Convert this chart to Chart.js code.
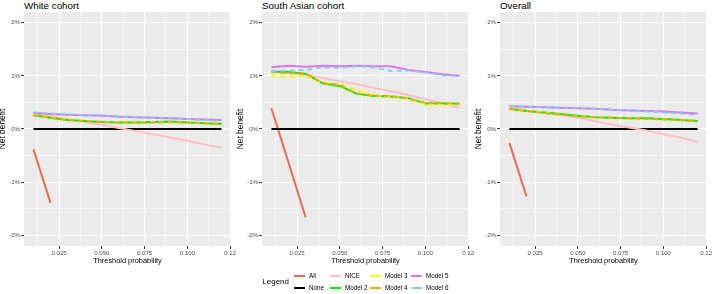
<!DOCTYPE html>
<html>
<head>
<meta charset="utf-8">
<script src="https://cdn.jsdelivr.net/npm/chart.js@4.4.0/dist/chart.umd.min.js"></script>
<style>
  html, body { margin: 0; padding: 0; background: #fff; }
  #wrap { position: relative; width: 713px; height: 294px; overflow: hidden; font-family: "Liberation Sans", Arial, sans-serif; }
  .panel { position: absolute; top: 0; width: 239px; height: 272px; }
  .ptitle { position: absolute; top: 0; font-size: 9.8px; line-height: 12px; color: #000; white-space: nowrap; }
  .lg { position: absolute; white-space: nowrap; color: #000; }
  .lgkey { position: absolute; height: 2px; width: 11px; }
</style>
</head>
<body>
<div id="wrap">
  <div class="ptitle" style="left:24px">White cohort</div>
  <div class="ptitle" style="left:262px">South Asian cohort</div>
  <div class="ptitle" style="left:500px">Overall</div>
  <div class="panel" style="left:-2px"><canvas id="c0" width="239" height="272"></canvas></div>
  <div class="panel" style="left:236px"><canvas id="c1" width="239" height="272"></canvas></div>
  <div class="panel" style="left:474px"><canvas id="c2" width="239" height="272"></canvas></div>
  <div id="legend"></div>
</div>

<script>
// threshold probabilities (x)
const thresholds = [0.01, 0.02, 0.03, 0.04, 0.05, 0.06, 0.07, 0.08, 0.09, 0.10, 0.11, 0.12];

// net benefit in % (null = outside the plotted range)
const whiteAll    = [-0.38, -1.39, null, null, null, null, null, null, null, null, null, null];
const whiteNone   = [0, 0, 0, 0, 0, 0, 0, 0, 0, 0, 0, 0];
const whiteNice   = [0.29, 0.24, 0.19, 0.13, 0.08, 0.02, -0.04, -0.10, -0.16, -0.22, -0.29, -0.35];
const whiteModel2 = [0.26, 0.21, 0.17, 0.15, 0.13, 0.12, 0.12, 0.13, 0.14, 0.12, 0.11, 0.10];
const whiteModel3 = [0.27, 0.22, 0.18, 0.15, 0.13, 0.12, 0.12, 0.13, 0.13, 0.12, 0.11, 0.10];
const whiteModel4 = [0.26, 0.21, 0.17, 0.15, 0.13, 0.12, 0.12, 0.12, 0.13, 0.12, 0.11, 0.09];
const whiteModel5 = [0.30, 0.28, 0.27, 0.26, 0.25, 0.23, 0.22, 0.21, 0.20, 0.19, 0.18, 0.17];
const whiteModel6 = [0.31, 0.29, 0.28, 0.26, 0.26, 0.24, 0.22, 0.21, 0.20, 0.19, 0.17, 0.15];

const saAll    = [0.39, -0.63, -1.66, null, null, null, null, null, null, null, null, null];
const saNone   = [0, 0, 0, 0, 0, 0, 0, 0, 0, 0, 0, 0];
const saNice   = [1.08, 1.06, 1.02, 0.96, 0.90, 0.84, 0.77, 0.71, 0.64, 0.56, 0.48, 0.40];
const saModel2 = [1.08, 1.07, 1.04, 0.86, 0.81, 0.66, 0.62, 0.61, 0.58, 0.48, 0.48, 0.48];
const saModel3 = [1.00, 0.98, 1.00, 0.87, 0.84, 0.74, 0.63, 0.61, 0.57, 0.46, 0.45, 0.47];
const saModel4 = [1.07, 1.05, 1.04, 0.86, 0.83, 0.67, 0.63, 0.62, 0.57, 0.49, 0.49, 0.47];
const saModel5 = [1.16, 1.19, 1.17, 1.19, 1.18, 1.19, 1.18, 1.18, 1.11, 1.07, 1.03, 1.00];
const saModel6 = [1.09, 1.10, 1.11, 1.16, 1.15, 1.18, 1.16, 1.09, 1.10, 1.06, 1.01, 1.00];

const ovAll    = [-0.26, -1.27, null, null, null, null, null, null, null, null, null, null];
const ovNone   = [0, 0, 0, 0, 0, 0, 0, 0, 0, 0, 0, 0];
const ovNice   = [0.40, 0.35, 0.31, 0.26, 0.21, 0.15, 0.08, 0.03, -0.03, -0.10, -0.16, -0.24];
const ovModel2 = [0.38, 0.34, 0.31, 0.28, 0.25, 0.22, 0.21, 0.20, 0.20, 0.19, 0.17, 0.15];
const ovModel3 = [0.38, 0.34, 0.31, 0.27, 0.24, 0.22, 0.21, 0.20, 0.19, 0.18, 0.17, 0.16];
const ovModel4 = [0.38, 0.34, 0.30, 0.27, 0.24, 0.22, 0.21, 0.20, 0.19, 0.18, 0.17, 0.15];
const ovModel5 = [0.43, 0.42, 0.41, 0.40, 0.39, 0.38, 0.36, 0.35, 0.34, 0.33, 0.31, 0.29];
const ovModel6 = [0.44, 0.42, 0.41, 0.40, 0.40, 0.38, 0.36, 0.35, 0.33, 0.31, 0.29, 0.26];

const seriesNames = ['All', 'None', 'NICE', 'Model 2', 'Model 3', 'Model 4', 'Model 5', 'Model 6'];
const panelData = [
  [whiteAll, whiteNone, whiteNice, whiteModel2, whiteModel3, whiteModel4, whiteModel5, whiteModel6],
  [saAll, saNone, saNice, saModel2, saModel3, saModel4, saModel5, saModel6],
  [ovAll, ovNone, ovNice, ovModel2, ovModel3, ovModel4, ovModel5, ovModel6]
];

// axis ticks
const xTickValues = [0.025, 0.05, 0.075, 0.1, 0.125];
const xTickLabels = ['0.025', '0.050', '0.075', '0.100', '0.12'];
const xMinorValues = [0.0125, 0.0375, 0.0625, 0.0875, 0.1125];
const yTickValues = [-2, -1, 0, 1, 2];
const yTickLabels = ['-2%', '-1%', '0%', '1%', '2%'];
const yMinorValues = [-1.5, -0.5, 0.5, 1.5];

// styles
const colors = ['#EE6A50', '#000000', '#FFC0CB', '#00EE00', '#FFFF00', '#FFA500', '#D877EE', '#87CEEB'];
const dashed = [false, false, false, false, true, true, false, true];
const FONT = '"Liberation Sans", Arial, sans-serif';

const panelBg = {
  id: 'panelBg',
  beforeDraw(chart) {
    const { ctx, chartArea: { left, top, right, bottom } } = chart;
    ctx.save();
    ctx.fillStyle = '#EBEBEB';
    ctx.fillRect(left, top, right - left, bottom - top);
    ctx.restore();
  }
};

function isMajor(list, v) {
  return list.indexOf(v) >= 0;
}

function makePanel(id, series) {
  const datasets = series.map((vals, i) => ({
    label: seriesNames[i],
    data: thresholds.map((t, k) => ({ x: t, y: vals[k] })),
    borderColor: colors[i],
    backgroundColor: colors[i],
    borderWidth: 2,
    borderDash: dashed[i] ? [5, 4] : [],
    pointRadius: 0,
    tension: 0,
    spanGaps: false,
    order: seriesNames.length - i
  }));

  const xAll = xMinorValues.concat(xTickValues).sort((a, b) => a - b);
  const yAll = yMinorValues.concat(yTickValues).sort((a, b) => a - b);

  return new Chart(document.getElementById(id), {
    type: 'line',
    data: { datasets },
    options: {
      responsive: false,
      animation: false,
      layout: { padding: { left: 0, right: 6, top: 12, bottom: 0 } },
      plugins: { legend: { display: false }, tooltip: { enabled: false } },
      scales: {
        x: {
          type: 'linear',
          min: 0.0045,
          max: 0.1255,
          afterBuildTicks: (s) => { s.ticks = xAll.map(v => ({ value: v })); },
          afterFit: (s) => { s.height = 26; s.paddingLeft = 0; s.paddingRight = 0; },
          border: { display: false },
          grid: {
            color: '#FFFFFF',
            lineWidth: (c) => c.tick && isMajor(xTickValues, c.tick.value) ? 1.1 : 0.55,
            tickColor: (c) => c.tick && isMajor(xTickValues, c.tick.value) ? '#333333' : 'rgba(0,0,0,0)',
            tickLength: 3,
            tickWidth: 1
          },
          ticks: {
            autoSkip: false,
            maxRotation: 0,
            padding: 1,
            color: '#4D4D4D',
            font: { family: FONT, size: 6.1 },
            callback: (v) => {
              const i = xTickValues.indexOf(v);
              return i >= 0 ? xTickLabels[i] : '';
            }
          },
          title: {
            display: true,
            text: 'Threshold probability',
            color: '#000',
            font: { family: FONT, size: 7.4 },
            padding: { top: 0, bottom: 6.6 }
          }
        },
        y: {
          min: -2.2,
          max: 2.2,
          afterBuildTicks: (s) => { s.ticks = yAll.map(v => ({ value: v })); },
          afterFit: (s) => { s.width = 26; s.paddingTop = 0; s.paddingBottom = 0; },
          border: { display: false },
          grid: {
            color: '#FFFFFF',
            lineWidth: (c) => c.tick && isMajor(yTickValues, c.tick.value) ? 1.1 : 0.55,
            tickColor: (c) => c.tick && isMajor(yTickValues, c.tick.value) ? '#333333' : 'rgba(0,0,0,0)',
            tickLength: 3,
            tickWidth: 1
          },
          ticks: {
            autoSkip: false,
            padding: 1,
            color: '#4D4D4D',
            font: { family: FONT, size: 6.1 },
            callback: (v) => {
              const i = yTickValues.indexOf(v);
              return i >= 0 ? yTickLabels[i] : '';
            }
          },
          title: {
            display: true,
            text: 'Net benefit',
            color: '#000',
            font: { family: FONT, size: 8.4 },
            padding: { top: 0, bottom: 0 }
          }
        }
      }
    },
    plugins: [panelBg]
  });
}

panelData.forEach((series, p) => makePanel('c' + p, series));

// legend (two rows, filled column by column like ggplot)
const legendEl = document.getElementById('legend');
const colX = [294, 330, 370, 411];
const rowY = [275.5, 287.5];
let html = '<div class="lg" style="left:258px;width:31px;text-align:right;top:276px;font-size:8px;line-height:12px">Legend</div>';
seriesNames.forEach((name, i) => {
  const col = Math.floor(i / 2), row = i % 2;
  html += '<div class="lgkey" style="left:' + colX[col] + 'px;top:' + (rowY[row] - 1) + 'px;background:' + colors[i] + '"></div>';
  html += '<div class="lg" style="left:' + (colX[col] + 15) + 'px;top:' + (rowY[row] - 5) + 'px;font-size:6.3px;line-height:10px">' + name + '</div>';
});
legendEl.innerHTML = html;
</script>
</body>
</html>
